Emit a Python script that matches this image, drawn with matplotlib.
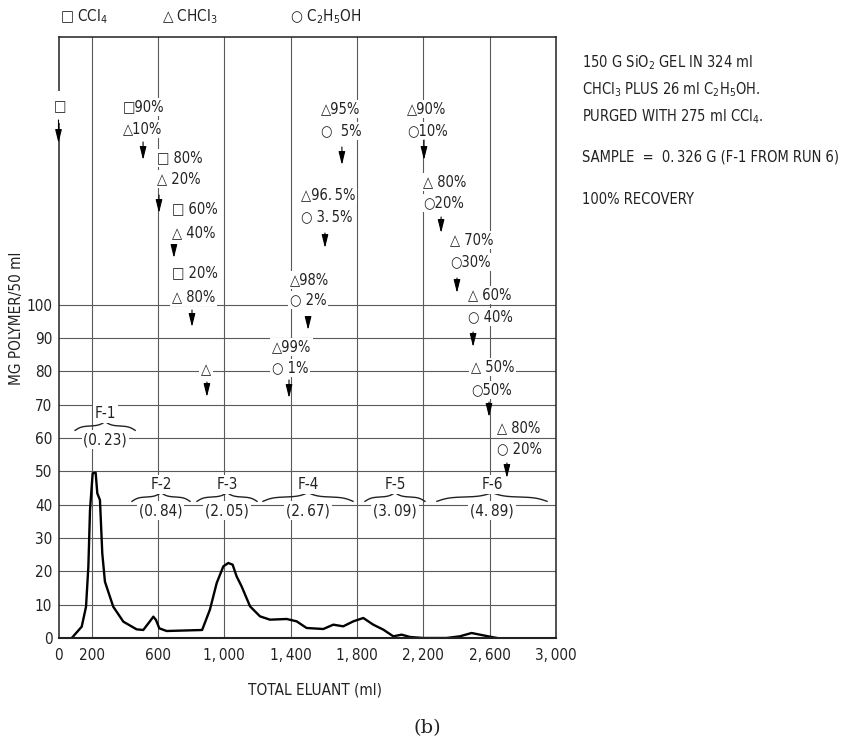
import matplotlib
matplotlib.use('Agg')
import matplotlib.pyplot as plt
import numpy as np

# ---------------- data ----------------
eluant_ml = [80, 140, 166, 180, 190, 206, 224, 234, 250, 264, 280, 330, 391, 471, 511,
             542, 572, 588, 608, 652, 866, 913, 954, 994, 1024, 1050, 1074, 1104,
             1155, 1215, 1275, 1376, 1436, 1496, 1597, 1657, 1717, 1778, 1838, 1898,
             1959, 2019, 2069, 2120, 2200, 2340, 2420, 2491, 2541, 2622, 2702, 2793]
polymer_mg = [0, 3.4, 9.4, 21.4, 38.4, 49.4, 49.6, 43.4, 41.4, 25.4, 16.9, 9.4, 4.9, 2.6, 2.4,
              4.4, 6.4, 5.4, 2.9, 2.1, 2.4, 8.5, 16.5, 21.5, 22.5, 22.0, 18.5, 15.5,
              9.5, 6.5, 5.5, 5.7, 5.0, 3.0, 2.7, 4.0, 3.5, 5.0, 6.0, 4.0,
              2.5, 0.5, 1.0, 0.3, 0.0, 0.0, 0.5, 1.5, 1.0, 0.2, -0.5, -0.6]

TS = '\u2009'
xtick_vals = [0, 200, 600, 1000, 1400, 1800, 2200, 2600, 3000]
xtick_labels = ['0', '200', '600', '1,' + TS + '000', '1,' + TS + '400', '1,' + TS + '800',
                '2,' + TS + '200', '2,' + TS + '600', '3,' + TS + '000']
ytick_vals = list(range(0, 101, 10))
vgrid_vals = [200, 600, 1000, 1400, 1800, 2200, 2600]

# solvent composition labels (x ml, y, text)
step_x = [-27, 389, 389, 594, 594, 684, 684, 684, 684, 859, 1287, 1287, 1396, 1396,
          1462, 1462, 1583, 1583, 2101, 2101, 2198, 2198, 2361, 2361, 2469, 2469,
          2487, 2487, 2644, 2644]
step_y = [159.3, 159.3, 152.7, 144.0, 137.7, 128.7, 121.5, 109.5, 102.3, 80.4, 87.3, 81.0,
          107.4, 101.4, 132.9, 126.3, 158.7, 152.1, 158.7, 152.1, 136.8, 130.5,
          119.4, 112.8, 102.9, 96.3, 81.3, 74.4, 63.0, 56.7]
step_text = ['□', '□90%', '△10%', '□ 80%', '△ 20%', '□ 60%', '△ 40%', '□ 20%', '△ 80%',
             '△', '△99%', '○ 1%', '△98%', '○ 2%', '△96.' + TS + '5%', '○ 3.' + TS + '5%',
             '△95%', '○  5%', '△90%', '○10%', '△ 80%', '○20%', '△ 70%', '○30%',
             '△ 60%', '○ 40%', '△ 50%', '○50%', '△ 80%', '○ 20%']

# solvent change arrows (x ml, tail y, tip y)
arrow_x = [0, 510, 606, 696, 805, 895, 1390, 1505, 1607, 1709, 2204, 2307, 2403, 2500, 2596, 2704]
arrow_tail = [155.4, 148.8, 132.9, 117.9, 98.4, 76.8, 77.4, 96.3, 121.5, 147.3, 149.4,
              126.3, 108.0, 91.8, 70.8, 52.5]
arrow_tip = [148.5, 143.4, 127.5, 114.0, 93.3, 72.3, 72.0, 92.4, 117.0, 141.9, 143.4,
             121.5, 103.5, 87.3, 66.3, 48.0]

# fractions
frac_names = ['F-1', 'F-2', 'F-3', 'F-4', 'F-5', 'F-6']
frac_values = ['(0.' + TS + '23)', '(0.' + TS + '84)', '(2.' + TS + '05)',
               '(2.' + TS + '67)', '(3.' + TS + '09)', '(4.' + TS + '89)']
frac_x0 = [100, 443, 835, 1233, 1848, 2282]
frac_x1 = [462, 793, 1197, 1776, 2210, 2946]
frac_y = [63.6, 42.3, 42.3, 42.3, 42.3, 42.3]

# ---------------- style ----------------
plt.rcParams['font.family'] = ['DejaVu Sans']
plt.rcParams['font.stretch'] = 'condensed'
plt.rcParams['mathtext.fontset'] = 'dejavusans'

W, H = 867, 740
fig = plt.figure(figsize=(W / 100, H / 100), dpi=100)
ax = fig.add_axes([58.5 / W, 1 - 638 / H, (556 - 58.5) / W, (638 - 37) / H])
ax.set_xlim(0, 3000)
ax.set_ylim(0, 180.3)

gcol = '#5a5a5a'
for v in vgrid_vals:
    ax.axvline(v, color=gcol, lw=0.8, zorder=0.5)
for v in ytick_vals[1:]:
    ax.axhline(v, color=gcol, lw=0.8, zorder=0.5)

ax.plot(eluant_ml, polymer_mg, color='black', lw=1.7, zorder=2, solid_joinstyle='round')

ax.set_xticks(xtick_vals)
ax.set_xticklabels(xtick_labels)
ax.set_yticks(ytick_vals)
ax.tick_params(axis='both', length=0, labelsize=11, colors='#222222')
ax.tick_params(axis='y', pad=4.5)
ax.tick_params(axis='x', pad=7)
for s in ax.spines.values():
    s.set_linewidth(1.1)
    s.set_color('#222222')
ax.spines['bottom'].set_linewidth(1.5)

wbox = dict(fc='white', ec='none', pad=1.2)
for x, y, t in zip(step_x, step_y, step_text):
    box = wbox
    if x < 0:
        box = dict(fc='white', ec='none', pad=6)
    ax.text(x, y, t, ha='left', va='center', fontsize=10.5, color='#222222',
            bbox=box, zorder=3, clip_on=False)

for x, yt, yh in zip(arrow_x, arrow_tail, arrow_tip):
    ax.annotate('', xy=(x, yh), xytext=(x, yt),
                arrowprops=dict(arrowstyle='-|>,head_length=0.8,head_width=0.2',
                                color='black', lw=0.8, shrinkA=0, shrinkB=0),
                zorder=4, annotation_clip=False)


def brace(ax, x0, x1, y, h, beta=9.0):
    u = np.linspace(0, 1, 120)
    yh = 1 / (1 + np.exp(-beta * u)) + 1 / (1 + np.exp(-beta * (u - 1)))
    xs_half = x0 + u * (x1 - x0) / 2
    xs = np.concatenate([xs_half, x1 - u[::-1][1:] * (x1 - x0) / 2])
    ys = np.concatenate([yh, yh[-2::-1]])
    ax.plot(xs, y + (ys - 1) * h, color='#222222', lw=1.0, zorder=3)


for n, v, x0, x1, y in zip(frac_names, frac_values, frac_x0, frac_x1, frac_y):
    brace(ax, x0, x1, y, 2.6)
    xc = (x0 + x1) / 2
    ax.text(xc, y + 3.8, n, ha='center', va='center', fontsize=11, color='#222222',
            bbox=wbox, zorder=3)
    ax.text(xc, y - 4.1, v, ha='center', va='center', fontsize=11, color='#222222',
            bbox=wbox, zorder=3)


def ftext(px, py, s, **kw):
    fig.text(px / W, 1 - py / H, s, **kw)


tc = '#222222'
ftext(60, 17, '□ CCl$_4$', ha='left', va='center', fontsize=11, color=tc)
ftext(162, 17, '△ CHCl$_3$', ha='left', va='center', fontsize=11, color=tc)
ftext(290, 17, '○ C$_2$H$_5$OH', ha='left', va='center', fontsize=11, color=tc)

right_lines = ['150 G SiO$_2$ GEL IN 324 ml',
               'CHCl$_3$ PLUS 26 ml C$_2$H$_5$OH.',
               'PURGED WITH 275 ml CCl$_4$.',
               'SAMPLE  =  0.' + TS + '326 G (F-1 FROM RUN 6)',
               '100% RECOVERY']
right_y = [63, 90, 117, 157, 200]
for s, y in zip(right_lines, right_y):
    ftext(582, y, s, ha='left', va='center', fontsize=10.5, color=tc)

ftext(17, 318, 'MG POLYMER/50 ml', rotation=90, ha='center', va='center', fontsize=11, color=tc)
ftext(315, 690, 'TOTAL ELUANT (ml)', ha='center', va='center', fontsize=11, color=tc)
ftext(427, 728, '(b)', ha='center', va='center', fontsize=14, color=tc,
      family=['DejaVu Serif'], fontstretch='normal')

fig.savefig('out.png', dpi=100, facecolor='white')
